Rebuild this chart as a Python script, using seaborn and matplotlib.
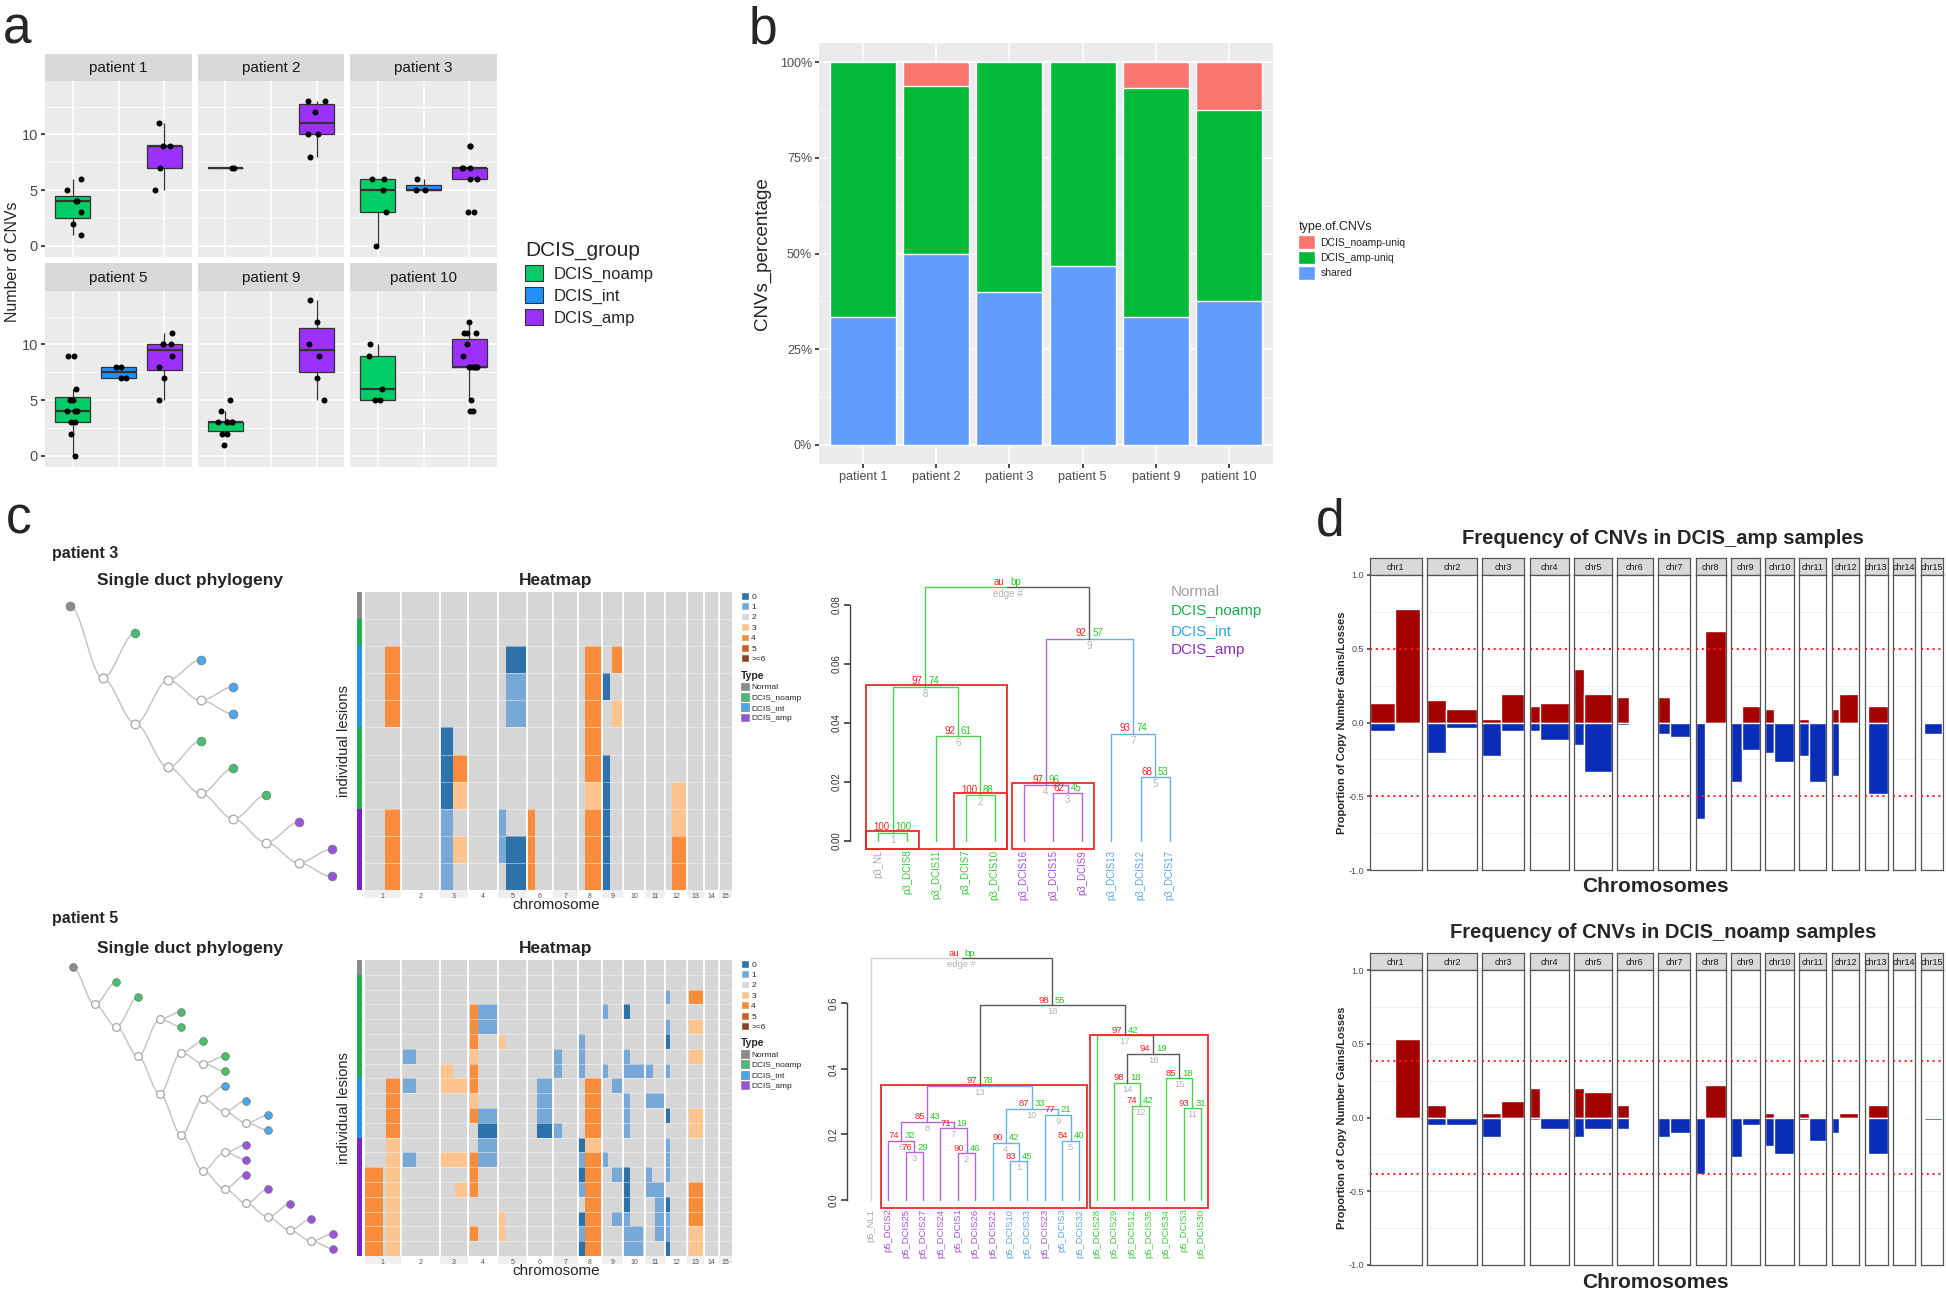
import numpy as np
import pandas as pd
import matplotlib
matplotlib.use("Agg")
import matplotlib.pyplot as plt
import seaborn as sns
from matplotlib.colors import ListedColormap
from matplotlib.patches import Patch, Rectangle
from matplotlib.ticker import FuncFormatter, MultipleLocator

# ---------------- panel a: number of CNVs per lesion ----------------
groups = ["DCIS_noamp", "DCIS_int", "DCIS_amp"]
facet_patients = ["patient 1", "patient 2", "patient 3", "patient 5", "patient 9", "patient 10"]
noamp_counts = [[1, 2, 3, 4, 4, 5, 6], [7, 7], [0, 3, 5, 6, 6],
                [0, 2, 3, 3, 4, 4, 4, 5, 5, 6, 9, 9], [1, 2, 2, 3, 3, 3, 3, 3, 4, 5], [5, 5, 6, 9, 10]]
int_counts = [[], [], [5, 5, 6], [7, 7, 8, 8], [], []]
amp_counts = [[5, 7, 9, 9, 11], [8, 10, 10, 12, 13, 13], [3, 3, 6, 6, 7, 7, 7, 9, 9],
              [5, 7, 8, 9, 10, 10, 10, 11], [5, 7, 9, 10, 12, 14],
              [4, 4, 5, 8, 8, 8, 8, 8, 8, 9, 10, 11, 11, 11, 12]]

# ---------------- panel b: CNV sharing ----------------
bar_patients = ["patient 1", "patient 2", "patient 3", "patient 5", "patient 9", "patient 10"]
shared_pct = [33.3, 50.0, 40.0, 46.7, 33.3, 37.5]
amp_uniq_pct = [66.7, 43.75, 60.0, 53.3, 60.0, 50.0]
noamp_uniq_pct = [0.0, 6.25, 0.0, 0.0, 6.7, 12.5]
cnv_types = ["DCIS_noamp-uniq", "DCIS_amp-uniq", "shared"]

# ---------------- panel c: phylogeny, heatmap, pvclust ----------------
chrom_bins = [22, 23, 17, 18, 17, 16, 15, 14, 13, 13, 12, 13, 10, 9, 8]
cn_labels = ["0", "1", "2", "3", "4", "5", ">=6"]
type_names = ["Normal", "DCIS_noamp", "DCIS_int", "DCIS_amp"]

p3_tree = ["noamp", [["int", ["int", "int"]], ["noamp", ["noamp", ["noamp", ["amp", ["amp", "amp"]]]]]]]
# (chromosome, first bin, end bin, copy number) per lesion row
p3_cn_events = [
    [], [],
    [(1, 12, 22, 4), (5, 5, 17, 0), (8, 4, 14, 4), (9, 6, 13, 4)],
    [(1, 12, 22, 4), (5, 5, 17, 1), (8, 4, 14, 4), (9, 0, 5, 0)],
    [(1, 12, 22, 4), (5, 5, 17, 1), (8, 4, 14, 4), (9, 6, 13, 3)],
    [(3, 0, 8, 0), (8, 4, 14, 4)],
    [(3, 0, 8, 0), (3, 8, 17, 4), (8, 4, 14, 4), (9, 0, 5, 0)],
    [(3, 0, 8, 0), (3, 8, 17, 3), (8, 4, 14, 3), (9, 0, 5, 0), (12, 4, 13, 3)],
    [(1, 12, 22, 4), (3, 0, 8, 1), (5, 0, 5, 1), (6, 0, 5, 4), (8, 4, 14, 4), (9, 0, 5, 0), (12, 4, 13, 3)],
    [(1, 12, 22, 4), (3, 0, 8, 1), (3, 8, 17, 3), (5, 0, 5, 1), (5, 5, 17, 0), (6, 0, 5, 4),
     (8, 4, 14, 4), (9, 0, 5, 0), (12, 4, 13, 4)],
    [(1, 12, 22, 4), (3, 0, 8, 1), (5, 5, 17, 0), (6, 0, 5, 4), (8, 4, 14, 4), (9, 0, 5, 0), (12, 4, 13, 4)],
]

p5_tree = ["noamp", ["noamp", [["noamp", "noamp"], [["noamp", ["noamp", "noamp"]],
           [["int", ["int", ["int", "int"]]],
            [["amp", "amp"], ["amp", ["amp", ["amp", ["amp", ["amp", "amp"]]]]]]]]]]]
p5_cn_events = [
    [], [],
    [(12, 0, 3, 1), (13, 1, 10, 4)],
    [(4, 1, 6, 4), (4, 6, 18, 1), (9, 0, 4, 1), (10, 0, 4, 0)],
    [(4, 1, 6, 4), (4, 6, 18, 1), (12, 0, 3, 1), (13, 1, 10, 3)],
    [(4, 1, 6, 4), (5, 0, 4, 3), (8, 0, 4, 1), (12, 0, 3, 0)],
    [(2, 1, 9, 1), (4, 1, 6, 3), (7, 0, 5, 1), (8, 0, 4, 1), (10, 0, 4, 1), (13, 1, 10, 3)],
    [(3, 0, 8, 3), (4, 1, 6, 4), (7, 0, 5, 1), (8, 0, 4, 1), (9, 0, 4, 1), (10, 0, 13, 1),
     (11, 0, 5, 1), (12, 0, 3, 1)],
    [(1, 13, 22, 4), (2, 1, 9, 1), (3, 0, 17, 3), (4, 1, 6, 4), (6, 6, 16, 1), (8, 4, 14, 4), (9, 6, 13, 1)],
    [(1, 13, 22, 4), (4, 1, 6, 3), (6, 6, 16, 1), (8, 4, 14, 4), (10, 0, 4, 1), (11, 0, 11, 1)],
    [(1, 13, 22, 4), (4, 1, 6, 4), (4, 6, 18, 1), (6, 6, 16, 1), (8, 4, 14, 4), (10, 0, 4, 1),
     (12, 0, 3, 0), (13, 1, 10, 3)],
    [(1, 13, 22, 4), (4, 6, 18, 0), (6, 6, 16, 0), (7, 0, 5, 1), (8, 4, 14, 4), (10, 0, 4, 1), (13, 1, 10, 3)],
    [(1, 13, 22, 3), (4, 6, 18, 1), (8, 0, 4, 0), (8, 4, 14, 3), (12, 0, 3, 1)],
    [(1, 13, 22, 3), (2, 1, 9, 1), (3, 0, 17, 3), (4, 1, 6, 4), (4, 6, 18, 1), (8, 0, 4, 1),
     (8, 4, 14, 4), (9, 0, 4, 1), (12, 0, 3, 1)],
    [(1, 0, 11, 4), (1, 13, 22, 3), (4, 1, 6, 4), (8, 0, 4, 0), (8, 4, 14, 4), (9, 6, 13, 1),
     (10, 0, 4, 0), (11, 0, 4, 1), (12, 0, 3, 1)],
    [(1, 0, 11, 4), (1, 13, 22, 3), (3, 9, 17, 3), (4, 1, 6, 4), (8, 0, 4, 1), (8, 4, 14, 4),
     (10, 0, 4, 0), (11, 0, 11, 1), (13, 1, 10, 4)],
    [(1, 0, 11, 4), (1, 13, 22, 3), (8, 4, 14, 4), (10, 0, 4, 0), (11, 6, 11, 1), (12, 0, 3, 0), (13, 1, 10, 4)],
    [(1, 0, 11, 4), (1, 13, 22, 3), (5, 0, 4, 3), (8, 0, 4, 0), (8, 4, 14, 4), (9, 6, 13, 1),
     (10, 0, 4, 1), (11, 6, 11, 1), (12, 0, 3, 1), (13, 1, 10, 4)],
    [(1, 0, 11, 4), (1, 13, 22, 3), (4, 1, 6, 4), (5, 0, 4, 3), (8, 0, 4, 1), (8, 4, 14, 4),
     (10, 0, 12, 1), (11, 6, 11, 1), (12, 0, 3, 1), (13, 1, 10, 3)],
    [(1, 0, 11, 4), (1, 13, 22, 3), (8, 0, 4, 0), (8, 4, 14, 4), (10, 0, 12, 1), (12, 0, 3, 0), (13, 1, 10, 3)],
]

# pvclust dendrograms (R hclust style merges: negative = leaf, positive = earlier merge)
p3_leaves = ["p3_NL", "p3_DCIS8", "p3_DCIS11", "p3_DCIS7", "p3_DCIS10", "p3_DCIS16",
             "p3_DCIS15", "p3_DCIS9", "p3_DCIS13", "p3_DCIS12", "p3_DCIS17"]
p3_leaf_groups = ["N", "noamp", "noamp", "noamp", "noamp", "amp", "amp", "amp", "int", "int", "int"]
p3_leaf_links = ["noamp"] * 5 + ["amp"] * 3 + ["int"] * 3
p3_left = [-1, -4, -7, -6, -10, -3, -9, 1, 4, 8]
p3_right = [-2, -5, -8, 3, -11, 2, 5, 6, 7, 9]
p3_height = [0.0027, 0.0155, 0.0162, 0.0188, 0.0215, 0.0355, 0.0363, 0.0523, 0.0686, 0.0861]
p3_links = ["noamp", "noamp", "amp", "amp", "int", "noamp", "int", "noamp", "top", None]
p3_au = [100, 100, 62, 97, 68, 92, 93, 97, 92, None]
p3_bp = [100, 88, 45, 96, 53, 61, 74, 74, 57, None]
p3_rects = [1, 2, 4, 8]

p5_leaves = ["p5_NL1", "p5_DCIS2", "p5_DCIS25", "p5_DCIS27", "p5_DCIS24", "p5_DCIS1", "p5_DCIS26",
             "p5_DCIS22", "p5_DCIS10", "p5_DCIS33", "p5_DCIS23", "p5_DCIS3", "p5_DCIS32", "p5_DCIS28",
             "p5_DCIS29", "p5_DCIS12", "p5_DCIS35", "p5_DCIS34", "p5_DCIS3", "p5_DCIS30"]
p5_leaf_groups = ["N"] + ["amp"] * 7 + ["int", "int", "amp", "int", "int"] + ["noamp"] * 7
p5_leaf_links = ["pale"] + ["amp"] * 6 + ["int"] * 6 + ["noamp"] * 7
p5_left = [-9, -6, -3, -8, -12, -2, -5, 6, -11, 4, -19, -16, 8, -15, -18, 14, -14, 13, -1]
p5_right = [-10, -7, -4, 1, -13, 3, 2, 7, 5, 9, -20, -17, 10, 12, 11, 15, 16, 17, 18]
p5_height = [0.119, 0.144, 0.146, 0.175, 0.181, 0.181, 0.219, 0.239, 0.26, 0.279, 0.28, 0.288,
             0.349, 0.358, 0.371, 0.4466, 0.5025, 0.594, 0.7375]
p5_links = ["int", "amp", "amp", "int", "int", "amp", "amp", "amp", "int", "int", "noamp", "noamp",
            "top", "top", "top", "top", "top", "top", None]
p5_au = [83, 90, 76, 90, 84, 74, 71, 85, 77, 87, 93, 74, 97, 98, 85, 94, 97, 98, None]
p5_bp = [45, 46, 29, 42, 40, 32, 19, 43, 21, 33, 31, 42, 78, 18, 18, 19, 42, 55, None]
p5_rects = [13, 17]

# ---------------- panel d: CNV frequency per chromosome arm ----------------
chrom_names = ["chr%d" % i for i in range(1, 16)]
chrom_len = [128, 124, 103, 97, 92, 88, 80, 74, 72, 70, 67, 68, 58, 54, 55]
p_arm_end = [63, 46, 46, 25, 23, 29, 29, 23, 26, 20, 25, 17, 8, 0, 8]
q_arm_end = [125, 124, 103, 97, 92, 88, 80, 74, 72, 70, 67, 66, 58, 54, 53]
amp_gain_p = [0.13, 0.15, 0.025, 0.11, 0.36, 0.175, 0.175, 0, 0, 0.09, 0.025, 0.09, 0, 0, 0]
amp_gain_q = [0.77, 0.09, 0.195, 0.13, 0.195, 0, 0, 0.62, 0.11, 0, 0, 0.195, 0.11, 0, 0]
amp_loss_p = [-0.06, -0.21, -0.23, -0.06, -0.15, -0.015, -0.08, -0.655, -0.40, -0.21, -0.23, -0.36, 0, 0, 0]
amp_loss_q = [0, -0.04, -0.06, -0.12, -0.335, 0, -0.10, 0, -0.185, -0.27, -0.40, 0, -0.485, 0, -0.08]
noamp_gain_p = [0, 0.085, 0.03, 0.2, 0.2, 0.085, 0, 0, 0, 0.03, 0.03, 0, 0, 0, 0]
noamp_gain_q = [0.53, 0, 0.11, 0, 0.17, 0, 0, 0.22, 0, 0, 0, 0.03, 0.085, 0, 0]
noamp_loss_p = [0, -0.05, -0.13, -0.02, -0.13, -0.08, -0.13, -0.38, -0.27, -0.19, -0.02, -0.105, 0, 0, 0]
noamp_loss_q = [0, -0.05, 0, -0.08, -0.08, 0, -0.105, 0, -0.05, -0.245, -0.16, 0, -0.245, 0, -0.02]
amp_threshold = 0.5
noamp_threshold = 0.38

# ---------------- colours ----------------
group_colors = ["#00CD66", "#1E90FF", "#9B30FF"]
type_colors = ["#F8766D", "#00BA38", "#619CFF"]
cn_colors = ["#2B73AA", "#78A8D6", "#D6D6D6", "#FDC48F", "#FA8C3C", "#CF5F28", "#8E4420"]
lesion_bar = {"N": "#8C8C8C", "noamp": "#22AD4E", "int": "#1E96F0", "amp": "#7B22D0"}
tip_fill = {"N": "#8C8C8C", "noamp": "#46BE6E", "int": "#4BA6EE", "amp": "#9B52DB"}
link_col = {"noamp": "#4CD24C", "int": "#6AAEEA", "amp": "#B466DA", "top": "#5A5A5A", "pale": "#D2D2D2"}
label_col = {"N": "#A8A8A8", "noamp": "#3CCB3C", "int": "#5DA8EA", "amp": "#A64FD6"}
gain_color, loss_color = "#A30000", "#0A2DB8"

sns.set_theme(style="white")
plt.rcParams["font.family"] = ["Liberation Sans", "DejaVu Sans"]

W, H = 1946, 1296
fig = plt.figure(figsize=(W / 100, H / 100), dpi=100)


def box_ax(x0, y0, x1, y1):
    # axes from a pixel box measured from the top-left corner
    return fig.add_axes([x0 / W, 1 - y1 / H, (x1 - x0) / W, (y1 - y0) / H])


def put(x, y, s, **kw):
    fig.text(x / W, 1 - y / H, s, **kw)


def strip_ax(x0, y0, x1, y1, label, fs, edge=None):
    st = box_ax(x0, y0, x1, y1)
    st.set_facecolor("#D9D9D9")
    st.set_xticks([])
    st.set_yticks([])
    for sp in st.spines.values():
        sp.set_visible(edge is not None)
        if edge:
            sp.set_color(edge)
            sp.set_linewidth(0.9)
    st.text(0.5, 0.47, label, transform=st.transAxes, ha="center", va="center", fontsize=fs, color="#1A1A1A")


# ======================= panel a =======================
rows = []
for pat, a, b, c in zip(facet_patients, noamp_counts, int_counts, amp_counts):
    for g, vals in zip(groups, (a, b, c)):
        rows += [(pat, g, v) for v in vals]
cnv_df = pd.DataFrame(rows, columns=["patient", "group", "n"])

np.random.seed(4)
a_cols = [(45, 192), (198, 344), (350, 497)]
a_rows = [(54, 81, 257), (263, 291, 467)]
for i, pat in enumerate(facet_patients):
    x0, x1 = a_cols[i % 3]
    s0, p0, p1 = a_rows[i // 3]
    strip_ax(x0, s0, x1, p0, pat, 11)
    ax = box_ax(x0, p0, x1, p1)
    sub = cnv_df[cnv_df["patient"] == pat]
    sns.boxplot(data=sub, x="group", y="n", order=groups, hue="group", hue_order=groups,
                palette=group_colors, width=0.77, showfliers=False, showcaps=False, saturation=1,
                linecolor="#333333", linewidth=0.9, medianprops={"linewidth": 1.6},
                legend=False, ax=ax)
    sns.stripplot(data=sub, x="group", y="n", order=groups, color="black", size=4.3,
                  jitter=0.2, ax=ax, zorder=4)
    ax.set_facecolor("#EBEBEB")
    ax.set_xlim(-0.6, 2.6)
    ax.set_ylim(-1.0, 14.8)
    ax.set_yticks([0, 5, 10])
    ax.yaxis.set_minor_locator(MultipleLocator(2.5))
    ax.set_xticks([0, 1, 2])
    ax.set_xticklabels([])
    ax.grid(True, which="major", color="white", lw=1.1)
    ax.grid(True, which="minor", axis="y", color="white", lw=0.5)
    ax.set_axisbelow(True)
    ax.set_xlabel("")
    ax.set_ylabel("")
    ax.tick_params(axis="x", length=0)
    for sp in ax.spines.values():
        sp.set_visible(False)
    if i % 3 == 0:
        ax.tick_params(axis="y", which="major", left=True, length=3, color="#333333",
                       labelsize=10.5, labelcolor="#4D4D4D", pad=2)
    else:
        ax.set_yticklabels([])
    ax.tick_params(axis="y", which="minor", left=False)

put(13, 262, "Number of CNVs", rotation=90, ha="center", va="center", fontsize=11.5)
fig.legend([Patch(facecolor=c, edgecolor="#333333", lw=0.8) for c in group_colors], groups,
           title="DCIS_group", loc="upper left", bbox_to_anchor=(510 / W, 1 - 226 / H), frameon=False,
           fontsize=12, title_fontsize=15, handlelength=1.1, handleheight=1.1, labelspacing=0.3,
           handletextpad=0.6, alignment="left")
put(3, 43, "a", fontsize=37, va="baseline")

# ======================= panel b =======================
axb = box_ax(819, 43, 1273, 464)
layer_top = np.array(shared_pct) + np.array(amp_uniq_pct) + np.array(noamp_uniq_pct)
layer_mid = np.array(shared_pct) + np.array(amp_uniq_pct)
for vals, c in zip([layer_top, layer_mid, np.array(shared_pct)], type_colors):
    sns.barplot(x=bar_patients, y=vals, color=c, width=0.9, saturation=1, errorbar=None, ax=axb, zorder=2)
axb.set_facecolor("#EBEBEB")
axb.set_xlim(-0.6, 5.6)
axb.set_ylim(-5, 105)
axb.set_yticks([0, 25, 50, 75, 100])
axb.yaxis.set_minor_locator(MultipleLocator(12.5))
axb.yaxis.set_major_formatter(FuncFormatter(lambda v, _: "%d%%" % v))
axb.grid(True, which="major", color="white", lw=1.1)
axb.grid(True, which="minor", axis="y", color="white", lw=0.5)
axb.set_axisbelow(True)
for sp in axb.spines.values():
    sp.set_visible(False)
axb.tick_params(axis="both", which="major", length=3, color="#333333", labelsize=9,
                labelcolor="#4D4D4D", left=True, bottom=True, pad=2)
axb.tick_params(axis="y", which="minor", left=False)
axb.set_xlabel("")
axb.set_ylabel("CNVs_percentage", fontsize=13.5, labelpad=6)
fig.legend([Patch(facecolor=c) for c in type_colors], cnv_types, title="type.of.CNVs",
           loc="upper left", bbox_to_anchor=(1289 / W, 1 - 212 / H), frameon=False, fontsize=7.5,
           title_fontsize=9, handlelength=1.6, handleheight=1.6, labelspacing=0.2,
           handletextpad=0.5, alignment="left")
put(749, 43, "b", fontsize=37, va="baseline")

# ======================= panel c =======================
chrom_starts = np.concatenate([[0], np.cumsum(chrom_bins)])


def cn_matrix(events):
    mat = np.full((len(events), chrom_starts[-1]), 2)
    for r, row in enumerate(events):
        for chrom, s, e, cn in row:
            mat[r, chrom_starts[chrom - 1] + s: chrom_starts[chrom - 1] + e] = cn
    return mat


def tip_groups(node):
    if isinstance(node, str):
        return [node]
    return sum((tip_groups(c) for c in node), [])


def tree_layout(tree):
    tips, inner, edges = [(0, 0.0, "N")], [], []
    counter = [1]

    def place(node, depth):
        if isinstance(node, str):
            y = float(counter[0])
            counter[0] += 1
            tips.append((depth, y, node))
            return y
        ys = [place(ch, depth + 1) for ch in node]
        y = sum(ys) / len(ys)
        edges.extend((depth, y, depth + 1, cy) for cy in ys)
        inner.append((depth, y))
        return y

    y1 = place(tree, 1)
    edges.append((0, 0.0, 1, y1))
    return tips, inner, edges


def draw_block(tree, events, top, bottom, tree_x0, tree_x1, title_y, patient_y, ms):
    n = len(events)
    lesion_types = ["N"] + tip_groups(tree)
    put(52, patient_y, "patient %s" % ("3" if n == 11 else "5"), fontsize=11.5, weight="bold", va="center")
    put(190, title_y, "Single duct phylogeny", fontsize=12.5, weight="bold", ha="center", va="center")
    put(556, title_y, "Heatmap", fontsize=12.5, weight="bold", ha="center", va="center")

    # phylogeny
    tips, inner, edges = tree_layout(tree)
    maxd = max(t[0] for t in tips)
    axt = box_ax(tree_x0, top, tree_x1, bottom)
    t = np.linspace(0, 1, 40)
    s = 3 * t ** 2 - 2 * t ** 3
    for x0, y0, x1, y1 in edges:
        axt.plot(x0 + (x1 - x0) * t, y0 + 0.5 + (y1 - y0) * s, color="#C6C6C6", lw=1.1, zorder=1)
    for x, y in inner:
        axt.plot(x, y + 0.5, "o", ms=ms, mfc="white", mec="#A8A8A8", mew=0.9, zorder=2, clip_on=False)
    for x, y, g in tips:
        axt.plot(x, y + 0.5, "o", ms=ms, mfc=tip_fill[g], mec="#777777", mew=0.5, zorder=3, clip_on=False)
    axt.set_xlim(0, maxd)
    axt.set_ylim(n, 0)
    axt.axis("off")

    # lesion type bar
    axa = box_ax(357, top, 362, bottom)
    type_keys = ["N", "noamp", "int", "amp"]
    sns.heatmap(np.array([[type_keys.index(g)] for g in lesion_types]),
                cmap=ListedColormap([lesion_bar[k] for k in type_keys]), vmin=-0.5, vmax=3.5,
                cbar=False, xticklabels=False, yticklabels=False, ax=axa)

    # copy number heatmap
    axh = box_ax(364.5, top, 732, bottom)
    sns.heatmap(cn_matrix(events), cmap=ListedColormap(cn_colors), vmin=-0.5, vmax=6.5, cbar=False,
                xticklabels=False, yticklabels=False, ax=axh)
    for b in chrom_starts[1:-1]:
        axh.axvline(b, color="white", lw=1.3)
    for r in range(1, n):
        axh.axhline(r, color="white", lw=0.5, alpha=0.6)
    row_px = (bottom - top) / n
    for i in range(0, 15, 2):
        axh.add_patch(Rectangle((chrom_starts[i], n), chrom_bins[i], 8 / row_px, fc="#EFEFEF", ec="none",
                                clip_on=False, zorder=0))
    centers = (chrom_starts[:-1] + chrom_starts[1:]) / 2
    axh.set_xticks(centers)
    axh.set_xticklabels([str(i) for i in range(1, 16)], fontsize=5, color="#555555")
    axh.tick_params(axis="x", length=0, pad=2.5, bottom=True)
    leg1 = axh.legend([Patch(facecolor=c) for c in cn_colors], cn_labels, loc="upper left",
                      bbox_to_anchor=(1.025, 1.0), frameon=False, fontsize=6, handlelength=0.9,
                      handleheight=1.05, labelspacing=0.2, handletextpad=0.3, borderaxespad=0, borderpad=0)
    axh.add_artist(leg1)
    axh.legend([Patch(facecolor=tip_fill[k], edgecolor="#888888", lw=0.5) for k in type_keys], type_names,
               title="Type", loc="upper left", bbox_to_anchor=(1.025, 0.735), frameon=False, fontsize=6,
               title_fontproperties={"weight": "bold", "size": 7.5}, handlelength=0.9, handleheight=1.05,
               labelspacing=0.2, handletextpad=0.3, borderaxespad=0, borderpad=0, alignment="left")
    put(344, (top + bottom) / 2, "individual lesions", rotation=90, ha="center", va="center", fontsize=10.5)
    put(556, bottom + 15, "chromosome", ha="center", va="center", fontsize=11)


def draw_dendro(box, x_ref, x_step, y_ref, y_unit, labels, label_groups, leaf_links, left, right,
                height, links, au, bp, rect_edges, rect_bottom, rect_pad, label_y, ticks, tick_fmt, fs):
    x0, y0, x1, y1 = box
    ax = box_ax(x0, y0, x1, y1)
    ax.patch.set_alpha(0)
    mx, members = [], []

    def info(ref):
        if ref < 0:
            return -ref - 1.0, 0.0, link_col[leaf_links[-ref - 1]], [-ref - 1]
        return mx[ref - 1], height[ref - 1], link_col.get(links[ref - 1], "#5A5A5A"), members[ref - 1]

    last = len(height) - 1
    for k, (l, r, h) in enumerate(zip(left, right, height)):
        xl, hl, cl, ml = info(l)
        xr, hr, cr, mr = info(r)
        xm = (xl + xr) / 2
        ax.plot([xl, xl, xm], [hl, h, h], color=cl, lw=1.0)
        ax.plot([xr, xr, xm], [hr, h, h], color=cr, lw=1.0)
        mx.append(xm)
        members.append(ml + mr)
        if k == last:
            at, bt, et = "au", "bp", "edge #"
        else:
            at, bt, et = str(au[k]), str(bp[k]), str(k + 1)
        ax.annotate(at, (xm, h), xytext=(-2, 0.2), textcoords="offset points", ha="right", va="bottom",
                    color="#FF2020", fontsize=fs)
        ax.annotate(bt, (xm, h), xytext=(2, 0.2), textcoords="offset points", ha="left", va="bottom",
                    color="#22CC22", fontsize=fs)
        ax.annotate(et, (xm, h), xytext=(0, -1.5), textcoords="offset points", ha="center", va="top",
                    color="#B4B4B4", fontsize=fs)
    for e in rect_edges:
        mem = members[e - 1]
        xa, xb = min(mem) - 0.4, max(mem) + 0.42
        top = height[e - 1] + rect_pad
        ax.add_patch(Rectangle((xa, rect_bottom), xb - xa, top - rect_bottom, fill=False,
                               ec="#EE2A2A", lw=1.3, zorder=5))
    for i, (lab, g) in enumerate(zip(labels, label_groups)):
        ax.text(i, label_y, lab, rotation=90, ha="center", va="top", color=label_col[g], fontsize=fs)
    ax.set_xlim((x0 - x_ref) / x_step, (x1 - x_ref) / x_step)
    ax.set_ylim((y_ref - y1) / y_unit, (y_ref - y0) / y_unit)
    for sp in ["top", "right", "bottom"]:
        ax.spines[sp].set_visible(False)
    ax.spines["left"].set_bounds(ticks[0], ticks[-1])
    ax.spines["left"].set_color("#444444")
    ax.spines["left"].set_linewidth(1.0)
    ax.spines["left"].set_position(("data", (x0 + 2 - x_ref) / x_step))
    ax.set_xticks([])
    ax.set_yticks(ticks)
    ax.set_yticklabels([tick_fmt % v for v in ticks], rotation=90, va="center", fontsize=7)
    ax.tick_params(axis="y", left=True, length=4, color="#444444", labelcolor="#333333", pad=2)


# patient 3
draw_block(p3_tree, p3_cn_events, 592, 890, 70, 331.5, 580, 553, 6.3)
draw_dendro((848, 555, 1215, 905), 878, 29.17, 840.7, 2946, p3_leaves, p3_leaf_groups, p3_leaf_links,
            p3_left, p3_right, p3_height, p3_links, p3_au, p3_bp, p3_rects, -0.0029, 0.0007, -0.0031,
            [0, 0.02, 0.04, 0.06, 0.08], "%.2f", 7)
for j, (name, g) in enumerate(zip(type_names, ["N", "noamp", "int", "amp"])):
    put(1171, 592 + j * 19.3, name, fontsize=11, va="center",
        color={"N": "#A0A0A0", "noamp": "#19AE4A", "int": "#2AAAE2", "amp": "#8E30C0"}[g])

# patient 5
draw_block(p5_tree, p5_cn_events, 960, 1256, 73, 333, 948, 918, 5.6)
draw_dendro((845, 940, 1220, 1260), 871, 17.37, 1200, 327.8, p5_leaves, p5_leaf_groups, p5_leaf_links,
            p5_left, p5_right, p5_height, p5_links, p5_au, p5_bp, p5_rects, -0.0235, 0.002, -0.026,
            [0, 0.2, 0.4, 0.6], "%.1f", 6.8)
put(6, 534, "c", fontsize=37, va="baseline")

# ======================= panel d =======================


def draw_freq(top, title, gain_p, gain_q, loss_p, loss_q, thr, ylab_y):
    strip1 = top + 17
    panel1 = strip1 + 295
    scale, gap = 0.4058, 5.3
    x = 1369.6
    put(1663, top - 20, title, fontsize=14.5, weight="bold", ha="center", va="center")
    for i in range(15):
        w = chrom_len[i] * scale
        strip_ax(x, top, x + w, strip1, chrom_names[i], 6.5, edge="#555555")
        ax = box_ax(x, strip1, x + w, panel1)
        ax.set_facecolor("white")
        for gl in [-0.75, -0.25, 0.25, 0.75, -0.5, 0.5, 1.0, -1.0]:
            ax.axhline(gl, color="#EBEBEB", lw=0.6, zorder=0)
        starts = [0, p_arm_end[i]]
        widths = [p_arm_end[i], q_arm_end[i] - p_arm_end[i]]
        ax.axhline(0, color="#666666", lw=0.8, ls=(0, (1, 1.5)), zorder=1)
        ax.bar(starts, [gain_p[i], gain_q[i]], width=widths, align="edge", color=gain_color, zorder=2)
        ax.bar(starts, [loss_p[i], loss_q[i]], width=widths, align="edge", color=loss_color, zorder=2)
        ax.axhline(thr, color="#FF1A1A", lw=1.4, ls=(0, (1, 2)), zorder=3)
        ax.axhline(-thr, color="#FF1A1A", lw=1.4, ls=(0, (1, 2)), zorder=3)
        ax.set_xlim(0, chrom_len[i])
        ax.set_ylim(-1, 1)
        ax.set_xticks([])
        for sp in ax.spines.values():
            sp.set_color("#555555")
            sp.set_linewidth(0.9)
        if i == 0:
            ax.set_yticks([-1, -0.5, 0, 0.5, 1])
            ax.set_yticklabels(["-1.0", "-0.5", "0.0", "0.5", "1.0"], fontsize=6.5, color="#4D4D4D")
            ax.tick_params(axis="y", left=True, length=2.5, color="#555555", pad=1.5)
        else:
            ax.set_yticks([])
        x += w + gap
    put(1342, ylab_y, "Proportion of Copy Number Gains/Losses", rotation=90, fontsize=8, weight="bold",
        ha="center", va="center")
    put(1655, panel1 + 17, "Chromosomes", fontsize=15, weight="bold", ha="center", va="center")


draw_freq(558, "Frequency of CNVs in DCIS_amp samples", amp_gain_p, amp_gain_q, amp_loss_p, amp_loss_q,
          amp_threshold, 723)
draw_freq(953, "Frequency of CNVs in DCIS_noamp samples", noamp_gain_p, noamp_gain_q, noamp_loss_p,
          noamp_loss_q, noamp_threshold, 1118)
put(1316, 535, "d", fontsize=37, va="baseline")

fig.savefig("out.png", dpi=100)
